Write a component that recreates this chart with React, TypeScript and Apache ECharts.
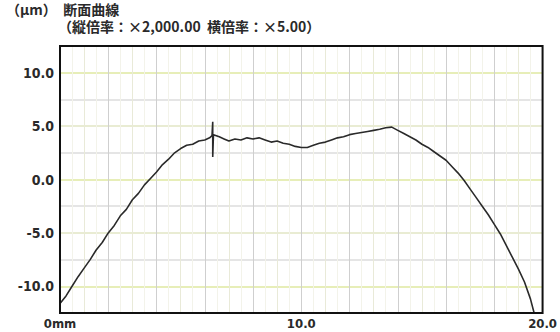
import React, { useEffect, useRef } from "react";
import * as echarts from "echarts";

const xs: number[] = [
  0, 0.25, 0.5, 0.75, 1.0, 1.25, 1.5, 1.75, 2.0, 2.25, 2.5, 2.75, 3.0, 3.25, 3.5, 3.75,
  4.0, 4.25, 4.5, 4.75, 5.0, 5.25, 5.5, 5.75, 6.0, 6.2, 6.3, 6.33, 6.33, 6.36, 6.6, 6.8, 7.0,
  7.25, 7.5, 7.75, 8.0, 8.25, 8.5, 8.75, 9.0, 9.25, 9.5, 9.75, 10.0, 10.25, 10.5, 10.75,
  11.0, 11.25, 11.5, 11.75, 12.0, 12.25, 12.5, 12.75, 13.0, 13.25, 13.5, 13.75, 14.0,
  14.25, 14.5, 14.75, 15.0, 15.25, 15.5, 15.75, 16.0, 16.25, 16.5, 16.75, 17.0, 17.25,
  17.5, 17.75, 18.0, 18.25, 18.5, 18.75, 19.0, 19.25, 19.5, 19.65,
];
const ys: number[] = [
  -11.6, -10.9, -10.0, -9.1, -8.3, -7.5, -6.6, -5.9, -5.0, -4.3, -3.4, -2.8, -1.9, -1.3, -0.5, 0.1,
  0.7, 1.4, 1.9, 2.5, 2.9, 3.2, 3.3, 3.6, 3.7, 3.9, 4.1, 5.4, 2.1, 4.2, 4.0, 3.8, 3.6,
  3.8, 3.7, 3.9, 3.8, 3.9, 3.7, 3.5, 3.6, 3.4, 3.3, 3.1, 3.0, 3.0, 3.2, 3.4,
  3.5, 3.7, 3.9, 4.0, 4.2, 4.3, 4.4, 4.5, 4.6, 4.7, 4.85, 4.9, 4.6,
  4.3, 4.0, 3.7, 3.3, 3.0, 2.6, 2.2, 1.8, 1.2, 0.6, -0.1, -0.9, -1.7,
  -2.5, -3.3, -4.2, -5.1, -6.2, -7.3, -8.4, -9.6, -11.2, -12.5,
];

const xTickValues: number[] = [0, 10, 20];
const xTickLabels: string[] = ["0mm", "10.0", "20.0"];
const yTickValues: number[] = [-10, -5, 0, 5, 10];
const yTickLabels: string[] = ["-10.0", "-5.0", "0.0", "5.0", "10.0"];

const titleLine1 = "（μm）  断面曲線";
const titleLine2 = "（縦倍率：×2,000.00  横倍率：×5.00）";

const labelFont = "'DejaVu Sans Condensed', 'Liberation Sans Narrow', 'DejaVu Sans', sans-serif";
const jpFont = "'Noto Sans CJK JP', 'DejaVu Sans', sans-serif";

export default function App() {
  const ref = useRef<HTMLDivElement>(null);
  useEffect(() => {
    document.body.style.margin = "0";
    if (!ref.current) return;
    const chart = echarts.init(ref.current, undefined, { renderer: "svg" });
    const data = xs.map((x, i) => [x, ys[i]]);
    chart.setOption({
      animation: false,
      backgroundColor: "#ffffff",
      grid: {
        left: 60,
        right: 17,
        top: 46,
        bottom: 19,
        show: true,
        borderColor: "#111111",
        borderWidth: 2,
        backgroundColor: "transparent",
        z: 10,
      },
      xAxis: {
        type: "value",
        min: 0,
        max: 20,
        interval: 1,
        axisLine: { show: false },
        axisTick: { show: false },
        axisLabel: {
          color: "#2a2a2a",
          fontFamily: labelFont,
          fontWeight: "bold",
          fontSize: 13,
          margin: 4,
          showMinLabel: true,
          showMaxLabel: true,
          formatter: (v: number) => {
            const i = xTickValues.indexOf(Math.round(v * 1000) / 1000);
            return i >= 0 ? xTickLabels[i] : "";
          },
        },
        splitLine: {
          show: true,
          lineStyle: { color: ["#cfcfcf", "#e9ead8"], width: 1 },
        },
        minorTick: { show: false, splitNumber: 2 },
        minorSplitLine: { show: true, lineStyle: { color: "#f3f3ea", width: 1 } },
      },
      yAxis: {
        type: "value",
        min: -12.5,
        max: 12.5,
        interval: 2.5,
        axisLine: { show: false },
        axisTick: { show: false },
        axisLabel: {
          color: "#2a2a2a",
          fontFamily: labelFont,
          fontWeight: "bold",
          fontSize: 14,
          margin: 6,
          formatter: (v: number) => {
            const i = yTickValues.indexOf(Math.round(v * 1000) / 1000);
            return i >= 0 ? yTickLabels[i] : "";
          },
        },
        splitLine: {
          show: true,
          lineStyle: { color: ["#dddddd", "#dfe8a0", "#dddddd", "#e2e6c4"], width: 1.5 },
        },
      },
      graphic: [
        {
          type: "text",
          left: 6,
          top: 2,
          style: { text: titleLine1, font: `bold 14px ${jpFont}`, fill: "#2a2a2a" },
        },
        {
          type: "text",
          left: 58,
          top: 19,
          style: { text: titleLine2, font: `bold 14px ${jpFont}`, fill: "#2a2a2a" },
        },
      ],
      series: [
        {
          type: "line",
          data,
          showSymbol: false,
          symbol: "none",
          lineStyle: { color: "#2a2a2a", width: 1.6 },
          clip: true,
          z: 5,
        },
      ],
    });
    return () => chart.dispose();
  }, []);
  return <div ref={ref} style={{ width: 560, height: 332 }} />;
}
